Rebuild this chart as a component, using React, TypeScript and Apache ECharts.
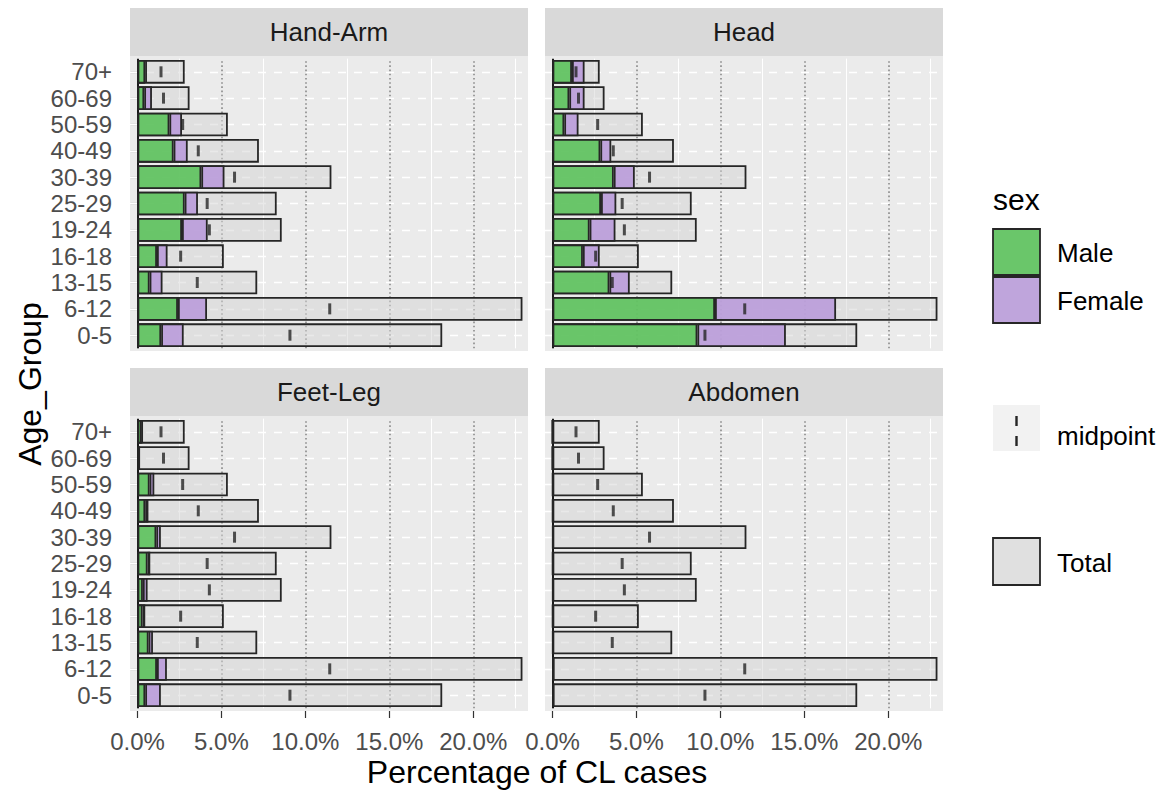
import React, { useEffect, useRef } from "react";
import * as echarts from "echarts";

// ---------- data (bottom → top) ----------
const categories = ["0-5", "6-12", "13-15", "16-18", "19-24", "25-29", "30-39", "40-49", "50-59", "60-69", "70+"];
const totalPct = [18.15, 22.93, 7.13, 5.14, 8.59, 8.29, 11.55, 7.23, 5.38, 3.1, 2.81];
const midpointPct = [9.08, 11.45, 3.56, 2.57, 4.28, 4.15, 5.78, 3.62, 2.69, 1.55, 1.4];

const handArmMale = [1.41, 2.41, 0.72, 1.16, 2.65, 2.81, 3.8, 2.15, 1.9, 0.4, 0.46];
const handArmFemale = [1.34, 1.73, 0.77, 0.63, 1.53, 0.79, 1.38, 0.84, 0.75, 0.46, 0.1];
const headMale = [8.63, 9.68, 3.39, 1.81, 2.21, 2.89, 3.65, 2.85, 0.7, 1.0, 1.16];
const headFemale = [5.27, 7.21, 1.21, 1.0, 1.54, 0.91, 1.25, 0.65, 0.85, 0.91, 0.75];
const feetLegMale = [0.46, 1.16, 0.66, 0.3, 0.32, 0.6, 1.12, 0.46, 0.72, 0.1, 0.25];
const feetLegFemale = [0.93, 0.59, 0.26, 0.16, 0.28, 0.16, 0.27, 0.19, 0.28, 0.0, 0.05];
const abdomenMale = [0.05, 0.05, 0.03, 0.02, 0.03, 0.02, 0.03, 0.02, 0.02, 0.0, 0.0];
const abdomenFemale = [0.02, 0.03, 0.0, 0.0, 0.0, 0.0, 0.0, 0.0, 0.0, 0.0, 0.0];

const panelNames = ["Hand-Arm", "Head", "Feet-Leg", "Abdomen"];
const panelMale = [handArmMale, headMale, feetLegMale, abdomenMale];
const panelFemale = [handArmFemale, headFemale, feetLegFemale, abdomenFemale];

const xTicks = [0, 5, 10, 15, 20];
const xMinor = [2.5, 7.5, 12.5, 17.5, 22.5];
const legendSexLabels = ["Male", "Female"];

// ---------- style ----------
const FONT = "'Liberation Sans', Arial, Helvetica, sans-serif";
const GREEN = "rgba(92,194,92,0.9)";
const PURPLE = "rgba(186,156,218,0.9)";
const TOTAL = "rgba(212,212,212,0.5)";
const GREEN_KEY = "#6AC66A";
const PURPLE_KEY = "#BFA5DC";
const TOTAL_KEY = "#E0E0E0";
const BORDER = "#262626";
const PANEL_BG = "#EBEBEB";
const STRIP_BG = "#D9D9D9";

const PANEL_W = 398;
const PANEL_H = 295;
const STRIP_H = 48;
const panelPos = [
  { left: 130, top: 56 },
  { left: 545, top: 56 },
  { left: 130, top: 416 },
  { left: 545, top: 416 },
];
const X_MIN = -0.447;
const X_MAX = 23.26;

export default function App() {
  const ref = useRef<HTMLDivElement>(null);

  useEffect(() => {
    if (!ref.current) return;
    const chart = echarts.init(ref.current, null, { renderer: "svg" });
    const band = PANEL_H / 11.2;
    const pad = band * 0.1;

    const grids: any[] = [];
    const xAxes: any[] = [];
    const yAxes: any[] = [];
    const series: any[] = [];
    const graphics: any[] = [];

    panelPos.forEach((p, i) => {
      const isBottom = i >= 2;
      const isLeft = i % 2 === 0;
      grids.push({ left: p.left, top: p.top + pad, width: PANEL_W, height: 11 * band, containLabel: false });
      xAxes.push({
        gridIndex: i,
        type: "value",
        min: X_MIN,
        max: X_MAX,
        offset: isBottom ? pad : 0,
        axisLine: { show: false },
        splitLine: { show: false },
        axisTick: {
          show: isBottom,
          customValues: xTicks,
          length: 7,
          lineStyle: { color: "#333333", width: 1.2 },
        },
        axisLabel: {
          show: isBottom,
          customValues: xTicks,
          formatter: (v: number) => v.toFixed(1) + "%",
          color: "#4D4D4D",
          fontSize: 24,
          fontFamily: FONT,
          margin: 18,
        },
      });
      yAxes.push({
        gridIndex: i,
        type: "category",
        data: categories,
        axisLine: { show: false },
        splitLine: { show: false },
        axisTick: {
          show: isLeft,
          alignWithLabel: true,
          interval: 0,
          length: 7,
          lineStyle: { color: "#333333", width: 1.2 },
        },
        axisLabel: {
          show: isLeft,
          interval: 0,
          color: "#4D4D4D",
          fontSize: 24,
          fontFamily: FONT,
          margin: 18,
        },
      });

      // panel background & strip
      graphics.push({
        type: "rect",
        z: 0,
        shape: { x: p.left, y: p.top, width: PANEL_W, height: PANEL_H },
        style: { fill: PANEL_BG },
        silent: true,
      });
      graphics.push({
        type: "rect",
        z: 0,
        shape: { x: p.left, y: p.top - STRIP_H, width: PANEL_W, height: STRIP_H },
        style: { fill: STRIP_BG },
        silent: true,
      });
      graphics.push({
        type: "text",
        z: 1,
        x: p.left + PANEL_W / 2,
        y: p.top - STRIP_H / 2,
        style: {
          text: panelNames[i],
          fill: "#1A1A1A",
          fontSize: 26,
          fontFamily: FONT,
          textAlign: "center",
          textVerticalAlign: "middle",
        },
      });

      // gridlines
      const gridLines: any[] = [];
      categories.forEach((_, k) => {
        gridLines.push({ yAxis: k, lineStyle: { color: "#FFFFFF", width: 1.3, type: [8, 8] } });
      });
      xMinor.forEach((v) => {
        gridLines.push({ xAxis: v, lineStyle: { color: "#FFFFFF", width: 1, type: "solid" } });
      });
      xTicks.forEach((v) => {
        gridLines.push({ xAxis: v, lineStyle: { color: "#8A8A8A", width: 1.6, type: [1.6, 2.6] } });
      });
      gridLines.push({ xAxis: 0, lineStyle: { color: "#1A1A1A", width: 2, type: "solid" } });
      series.push({
        type: "line",
        xAxisIndex: i,
        yAxisIndex: i,
        data: [],
        z: 1,
        silent: true,
        markLine: {
          z: 1,
          silent: true,
          symbol: ["none", "none"],
          label: { show: false },
          data: gridLines,
          animation: false,
        },
      });

      const barCommon = {
        type: "bar",
        xAxisIndex: i,
        yAxisIndex: i,
        barWidth: "90%",
        barGap: "-100%",
        silent: true,
      };
      series.push({
        ...barCommon,
        name: "Total",
        data: totalPct,
        z: 2,
        itemStyle: { color: TOTAL, borderColor: BORDER, borderWidth: 1.8 },
      });
      series.push({
        ...barCommon,
        name: "Male",
        stack: "sex" + i,
        data: panelMale[i],
        z: 3,
        itemStyle: { color: GREEN, borderColor: BORDER, borderWidth: 1.8 },
      });
      series.push({
        ...barCommon,
        name: "Female",
        stack: "sex" + i,
        data: panelFemale[i],
        z: 3,
        itemStyle: { color: PURPLE, borderColor: BORDER, borderWidth: 1.8 },
      });
      series.push({
        type: "scatter",
        name: "midpoint",
        xAxisIndex: i,
        yAxisIndex: i,
        data: midpointPct.map((v, k) => [v, k]),
        symbol: "rect",
        symbolSize: [3, 11],
        itemStyle: { color: "#262626" },
        z: 4,
        silent: true,
      });
    });

    // axis titles
    graphics.push({
      type: "text",
      x: 537,
      y: 772,
      style: {
        text: "Percentage of CL cases",
        fill: "#000000",
        fontSize: 32,
        fontFamily: FONT,
        textAlign: "center",
        textVerticalAlign: "middle",
      },
    });
    graphics.push({
      type: "text",
      x: 30,
      y: 384,
      rotation: Math.PI / 2,
      style: {
        text: "Age_Group",
        fill: "#000000",
        fontSize: 32,
        fontFamily: FONT,
        textAlign: "center",
        textVerticalAlign: "middle",
      },
    });

    // legend
    const LX = 993;
    const KW = 47;
    const TX = 1057;
    graphics.push({
      type: "text",
      x: LX,
      y: 199,
      style: { text: "sex", fill: "#000", fontSize: 30, fontFamily: FONT, textAlign: "left", textVerticalAlign: "middle" },
    });
    const sexColors = [GREEN_KEY, PURPLE_KEY];
    const sexTops = [229, 277];
    legendSexLabels.forEach((lab, k) => {
      graphics.push({
        type: "rect",
        shape: { x: LX, y: sexTops[k], width: KW, height: 46 },
        style: { fill: sexColors[k], stroke: BORDER, lineWidth: 1.8 },
      });
      graphics.push({
        type: "text",
        x: TX,
        y: sexTops[k] + 24,
        style: { text: lab, fill: "#000", fontSize: 26, fontFamily: FONT, textAlign: "left", textVerticalAlign: "middle" },
      });
    });
    graphics.push({
      type: "rect",
      shape: { x: LX, y: 405, width: KW, height: 46 },
      style: { fill: "#F2F2F2" },
    });
    graphics.push({
      type: "line",
      shape: { x1: LX + KW / 2, y1: 416, x2: LX + KW / 2, y2: 447 },
      style: { stroke: "#262626", lineWidth: 2.4, lineDash: [10, 10] },
    });
    graphics.push({
      type: "text",
      x: TX,
      y: 436,
      style: { text: "midpoint", fill: "#000", fontSize: 26, fontFamily: FONT, textAlign: "left", textVerticalAlign: "middle" },
    });
    graphics.push({
      type: "rect",
      shape: { x: LX, y: 538, width: KW, height: 47 },
      style: { fill: TOTAL_KEY, stroke: BORDER, lineWidth: 1.8 },
    });
    graphics.push({
      type: "text",
      x: TX,
      y: 563,
      style: { text: "Total", fill: "#000", fontSize: 26, fontFamily: FONT, textAlign: "left", textVerticalAlign: "middle" },
    });

    chart.setOption({
      animation: false,
      backgroundColor: "#FFFFFF",
      textStyle: { fontFamily: FONT },
      grid: grids,
      xAxis: xAxes,
      yAxis: yAxes,
      series,
      graphic: { elements: graphics },
    });

    return () => chart.dispose();
  }, []);

  return (
    <div
      ref={ref}
      style={{ position: "fixed", left: 0, top: 0, width: 1161, height: 791, background: "#fff" }}
    />
  );
}
